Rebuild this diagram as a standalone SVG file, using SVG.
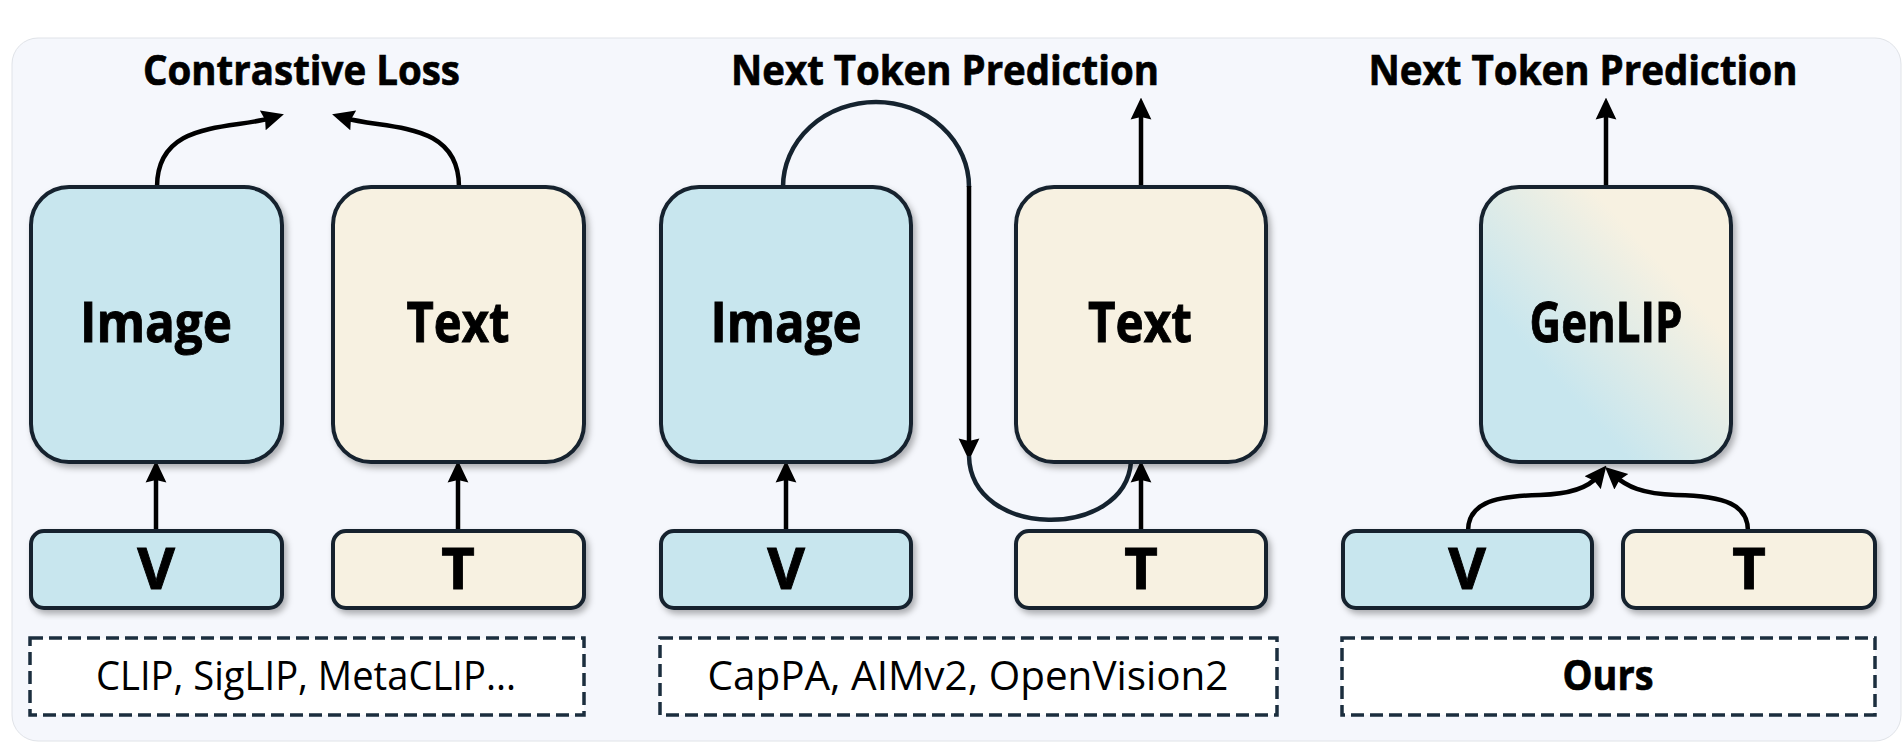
<svg xmlns="http://www.w3.org/2000/svg" width="1904" height="747" viewBox="0 0 1904 747">
<defs>
<filter id="sh" x="-10%" y="-10%" width="125%" height="125%">
<feDropShadow dx="3" dy="4" stdDeviation="3" flood-color="#000" flood-opacity="0.3"/>
</filter>
<linearGradient id="gen" x1="0" y1="1" x2="1" y2="0">
<stop offset="0.3" stop-color="#C8E6EE"/>
<stop offset="0.72" stop-color="#F7F1E1"/>
</linearGradient>
<marker id="ah" markerUnits="userSpaceOnUse" markerWidth="22" markerHeight="22" viewBox="0 0 18 17" refX="7" refY="8.5" orient="auto">
<path d="M0,0 L18,8.5 L0,17 L2,8.5 z" fill="#000"/>
</marker>
</defs>
<style>
.blue{fill:#C8E6EE;stroke:#14222E;stroke-width:4;filter:url(#sh)}
.beige{fill:#F7F1E1;stroke:#14222E;stroke-width:4;filter:url(#sh)}
.gen{fill:url(#gen);stroke:#14222E;stroke-width:4;filter:url(#sh)}
.dash{fill:#FFFFFF;stroke:#1B2E3E;stroke-width:3.5;stroke-dasharray:13 6}
.title{font-family:"Open Sans","Noto Sans",sans-serif;font-weight:700;font-size:42px;fill:#000;stroke:#000;stroke-width:0.7;text-anchor:middle}
.big{font-family:"Open Sans","Noto Sans",sans-serif;font-weight:700;font-size:56px;fill:#000;stroke:#000;stroke-width:0.9;text-anchor:middle}
.tok{font-family:"Open Sans","Noto Sans",sans-serif;font-weight:700;font-size:58px;fill:#000;stroke:#000;stroke-width:0.9;text-anchor:middle}
.note{font-family:"Open Sans","Noto Sans",sans-serif;font-weight:400;font-size:41px;fill:#000;text-anchor:middle}
.noteb{font-family:"Open Sans","Noto Sans",sans-serif;font-weight:700;font-size:41px;fill:#000;stroke:#000;stroke-width:0.7;text-anchor:middle}
.arr{fill:none;stroke:#000;stroke-width:4.5;marker-end:url(#ah)}
.loop{fill:none;stroke:#15232F;stroke-width:4.5}
</style>
<rect x="0" y="0" width="1904" height="747" fill="#FFFFFF"/>
<rect id="panel" x="12" y="38" width="1889" height="703" rx="26" fill="#F5F7FC" stroke="#E0E3E8" stroke-width="1"/>

<text class="title" x="301.5" y="85" textLength="317" lengthAdjust="spacingAndGlyphs">Contrastive Loss</text>
<text class="title" x="945" y="85" textLength="428" lengthAdjust="spacingAndGlyphs">Next Token Prediction</text>
<text class="title" x="1583" y="85" textLength="429" lengthAdjust="spacingAndGlyphs">Next Token Prediction</text>

<g id="connectors">
<path class="arr" d="M157 187 C157 120 230 130 271 118"/>
<path class="arr" d="M459 187 C459 120 386 130 345 118"/>
<path class="arr" d="M156 531 L156 474"/>
<path class="arr" d="M458 531 L458 474"/>
<path class="loop" d="M783 187 A 93 85 0 0 1 969 187"/>
<path class="arr" d="M969 186 L969 447"/>
<path class="loop" d="M969 456 C971 540 1125 540 1131 462"/>
<path class="arr" d="M786 531 L786 474"/>
<path class="arr" d="M1141 531 L1141 474"/>
<path class="arr" d="M1141 187 L1141 111"/>
<path class="arr" d="M1606 187 L1606 111"/>
<path class="arr" d="M1468 531 C1468 505 1490 496 1540 495 C1574 494 1590 486 1598 476"/>
<path class="arr" d="M1748 531 C1748 505 1726 496 1676 495 C1642 494 1626 486 1615 476"/>
</g>

<g id="p1-image"><rect class="blue" x="31" y="187" width="251" height="275" rx="38"/><text class="big" x="156" y="342" textLength="152" lengthAdjust="spacingAndGlyphs">Image</text></g>
<g id="p1-text"><rect class="beige" x="333" y="187" width="251" height="275" rx="38"/><text class="big" x="458" y="342" textLength="103" lengthAdjust="spacingAndGlyphs">Text</text></g>
<g id="p1-v"><rect class="blue" x="31" y="531" width="251" height="77" rx="13"/><text class="tok" x="156" y="589">V</text></g>
<g id="p1-t"><rect class="beige" x="333" y="531" width="251" height="77" rx="13"/><text class="tok" x="458" y="589">T</text></g>
<g id="p1-note"><rect class="dash" x="30" y="638" width="554" height="77"/><text class="note" x="306" y="690" textLength="420" lengthAdjust="spacingAndGlyphs">CLIP, SigLIP, MetaCLIP...</text></g>

<g id="p2-image"><rect class="blue" x="661" y="187" width="250" height="275" rx="38"/><text class="big" x="786" y="342" textLength="151" lengthAdjust="spacingAndGlyphs">Image</text></g>
<g id="p2-text"><rect class="beige" x="1016" y="187" width="250" height="275" rx="38"/><text class="big" x="1140" y="342" textLength="104" lengthAdjust="spacingAndGlyphs">Text</text></g>
<g id="p2-v"><rect class="blue" x="661" y="531" width="250" height="77" rx="13"/><text class="tok" x="786" y="589">V</text></g>
<g id="p2-t"><rect class="beige" x="1016" y="531" width="250" height="77" rx="13"/><text class="tok" x="1141" y="589">T</text></g>
<g id="p2-note"><rect class="dash" x="660" y="638" width="617" height="77"/><text class="note" x="968" y="690" textLength="521" lengthAdjust="spacingAndGlyphs">CapPA, AIMv2, OpenVision2</text></g>

<g id="p3-genlip"><rect class="gen" x="1481" y="187" width="250" height="275" rx="38"/><text class="big" x="1606" y="342" font-size="54" textLength="153" lengthAdjust="spacingAndGlyphs">GenLIP</text></g>
<g id="p3-v"><rect class="blue" x="1343" y="531" width="249" height="77" rx="13"/><text class="tok" x="1467" y="589">V</text></g>
<g id="p3-t"><rect class="beige" x="1623" y="531" width="252" height="77" rx="13"/><text class="tok" x="1749" y="589">T</text></g>
<g id="p3-note"><rect class="dash" x="1342" y="638" width="533" height="77"/><text class="noteb" x="1608" y="690" textLength="91" lengthAdjust="spacingAndGlyphs">Ours</text></g>
</svg>
